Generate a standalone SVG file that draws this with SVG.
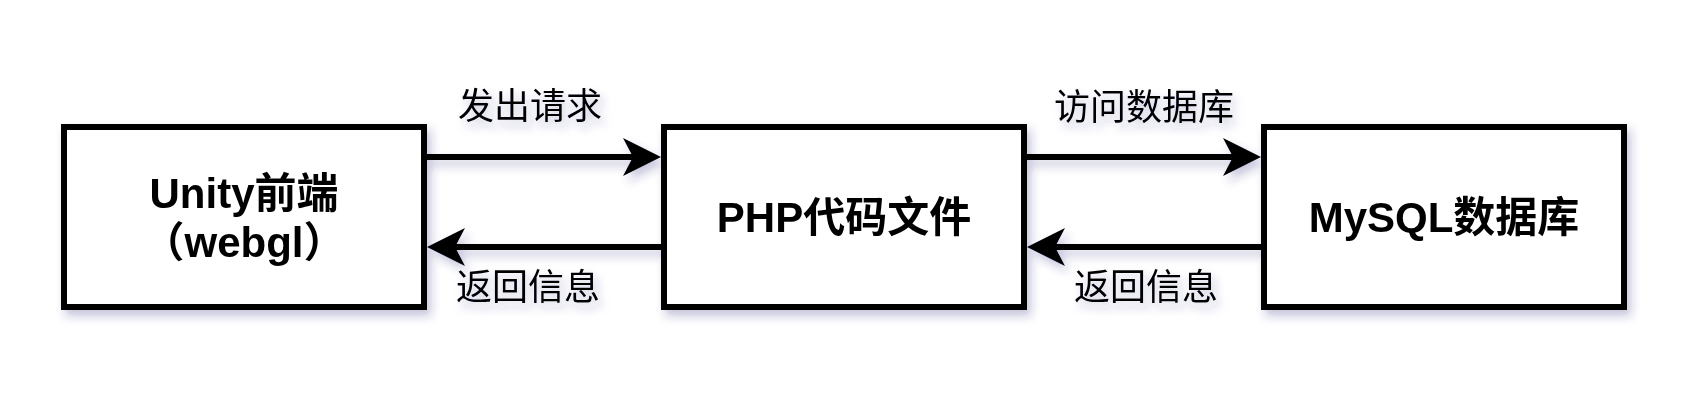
<svg xmlns="http://www.w3.org/2000/svg" width="1704" height="408" viewBox="0 0 1704 408">
  <style>
    .box { fill: #ffffff; stroke: #000000; stroke-width: 6; }
    .title { font-family: "Liberation Sans", "Noto Sans CJK SC", sans-serif; font-weight: bold; font-size: 42px; fill: #000000; text-anchor: middle; dominant-baseline: central; }
    .label { font-family: "Noto Sans CJK SC", "Liberation Sans", sans-serif; font-size: 36px; fill: #000000; text-anchor: middle; dominant-baseline: central; }
    .edge { fill: none; stroke: #000000; stroke-width: 6; marker-end: url(#arrow); }
  </style>
  <defs>
    <filter id="shadow" x="-20%" y="-40%" width="140%" height="180%">
      <feDropShadow dx="4" dy="6" stdDeviation="5" flood-color="#2a2a80" flood-opacity="0.28"/>
    </filter>
    <marker id="arrow" viewBox="0 0 38 38" refX="10" refY="19" markerWidth="38" markerHeight="38" markerUnits="userSpaceOnUse" orient="auto">
      <path d="M0,0 L38,19 L0,38 L10,19 Z" fill="#000000"/>
    </marker>
  </defs>
  <rect width="1704" height="408" fill="#ffffff"/>
  <g filter="url(#shadow)">
    <g id="connectors">
      <line class="edge" x1="427" y1="157" x2="633" y2="157"/>
      <line class="edge" x1="661" y1="247" x2="455" y2="247"/>
      <line class="edge" x1="1027" y1="157" x2="1233" y2="157"/>
      <line class="edge" x1="1261" y1="247" x2="1055" y2="247"/>
      <text class="label" x="530" y="103">发出请求</text>
      <text class="label" x="528" y="284">返回信息</text>
      <text class="label" x="1144" y="104">访问数据库</text>
      <text class="label" x="1146" y="284">返回信息</text>
    </g>
    <g id="unity">
      <rect class="box" x="64" y="127" width="360" height="180"/>
      <text class="title" x="244" y="193">Unity前端</text>
      <text class="title" x="244" y="242">（webgl）</text>
    </g>
    <g id="php">
      <rect class="box" x="664" y="127" width="360" height="180"/>
      <text class="title" x="844" y="217">PHP代码文件</text>
    </g>
    <g id="mysql">
      <rect class="box" x="1264" y="127" width="360" height="180"/>
      <text class="title" x="1444" y="217">MySQL数据库</text>
    </g>
  </g>
</svg>
